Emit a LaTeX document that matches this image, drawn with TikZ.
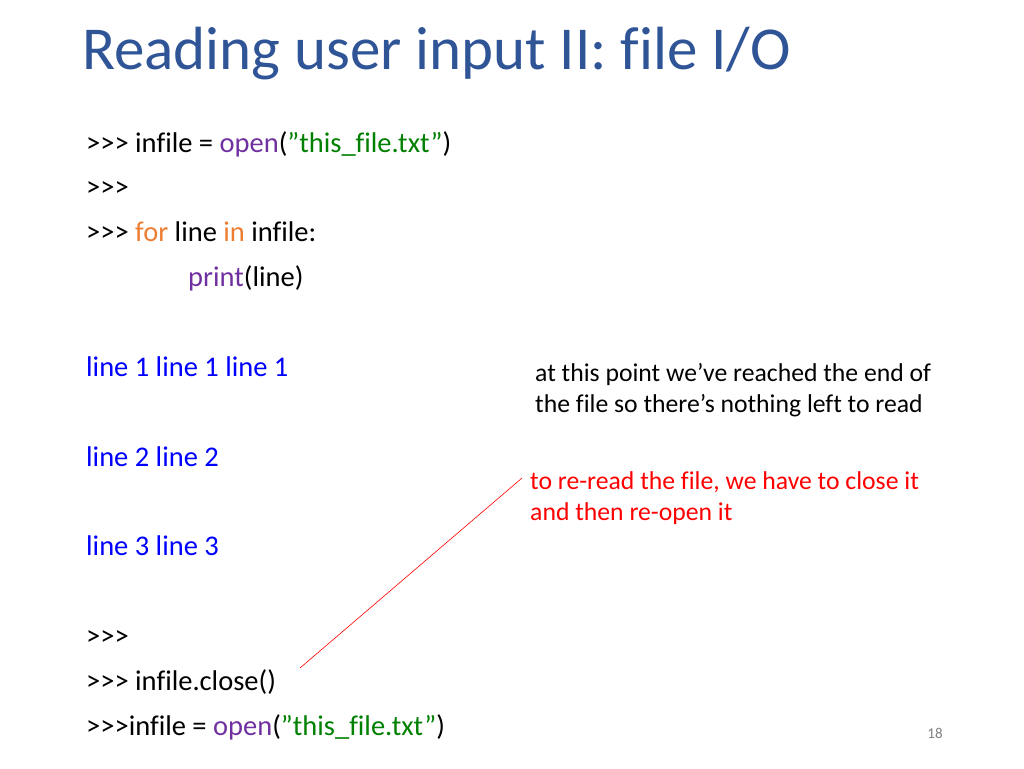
\documentclass[tikz,border=0pt]{standalone}
\usepackage{fontspec}
\setmainfont[Ligatures={CommonOff}]{Carlito}
\definecolor{ttl}{RGB}{47,85,151}
\definecolor{pur}{RGB}{112,48,160}
\definecolor{grn}{RGB}{0,128,0}
\definecolor{org}{RGB}{237,125,49}
\definecolor{blu}{RGB}{0,0,255}
\definecolor{rd}{RGB}{255,0,0}
\newcommand{\dq}{\symbol{"22}}
\newcommand{\ap}{\symbol{"27}}
\begin{document}
\begin{tikzpicture}[x=1pt,y=-1pt,
  code/.style={anchor=base west,inner sep=0pt,font=\fontsize{28.5}{32}\selectfont},
  note/.style={anchor=base west,inner sep=0pt,font=\fontsize{25.7}{30}\selectfont}]
\useasboundingbox (0,0) rectangle (1024,768);
\node[anchor=base west,inner sep=0pt,text=ttl,font=\fontsize{61}{70}\selectfont] (title) at (82,70) {Reading user input II: file I/O};
\node[code] (c1) at (86,152) {>{}>{}> infile = \textcolor{pur}{open}(\textcolor{grn}{\dq this\_file.txt\dq})};
\node[code] (c2) at (86,196) {>{}>{}>};
\node[code] (c3) at (86,241) {>{}>{}> \textcolor{org}{for} line \textcolor{org}{in} infile:};
\node[code] (c4) at (188,286) {\textcolor{pur}{print}(line)};
\node[code,text=blu] (o1) at (86,376) {line 1 line 1 line 1};
\node[code,text=blu] (o2) at (86,466) {line 2 line 2};
\node[code,text=blu] (o3) at (86,555) {line 3 line 3};
\node[code] (c5) at (86,645) {>{}>{}>};
\node[code] (c6) at (86,690) {>{}>{}> infile.close()};
\node[code] (c7) at (86,735) {>{}>{}>infile = \textcolor{pur}{open}(\textcolor{grn}{\dq this\_file.txt\dq})};
\node[note] (n1) at (535,381) {at this point we\ap ve reached the end of};
\node[note] (n2) at (535,412) {the file so there\ap s nothing left to read};
\node[note,text=rd] (r1) at (530,489) {to re-read the file, we have to close it};
\node[note,text=rd] (r2) at (530,520) {and then re-open it};
\node[anchor=base,inner sep=0pt,text=gray,font=\fontsize{15}{17}\selectfont] (pg) at (935,738) {18};
\coordinate (a) at (300,668);
\coordinate (b) at (522,478);
\draw[rd,line width=0.6pt] (a) -- (b);
\end{tikzpicture}
\end{document}
